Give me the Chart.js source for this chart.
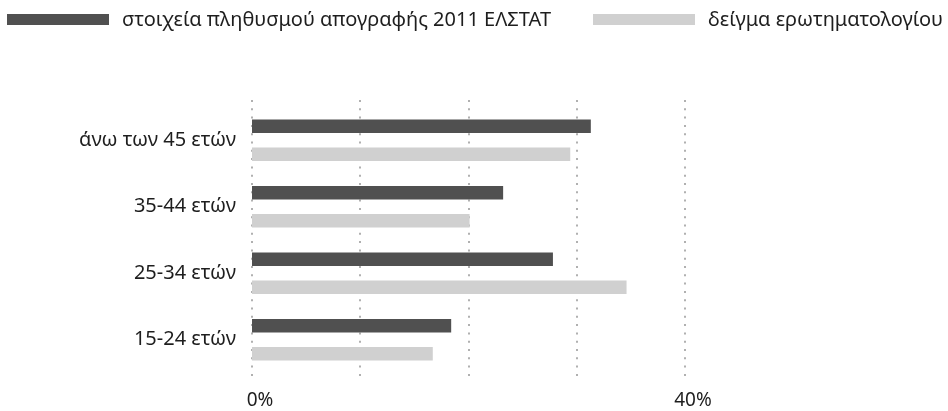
<!DOCTYPE html>
<html>
<head>
<meta charset="utf-8">
<script src="https://cdn.jsdelivr.net/npm/chart.js@4/dist/chart.umd.min.js"></script>
<style>
  html, body { margin: 0; padding: 0; background: #ffffff; }
  #wrap { position: relative; width: 948px; height: 411px; }
  #ageChart { position: absolute; left: 0; top: 0; }
  #legend { position: absolute; left: 0; top: 0; width: 948px; height: 40px;
            font-family: 'Noto Sans', sans-serif; font-size: 20px; color: #1e1e1e; }
  .legend-item { position: absolute; top: 5px; display: flex; align-items: center; white-space: nowrap; }
  .legend-box { width: 102px; height: 11px; margin-right: 13px; margin-top: 2px; }
</style>
</head>
<body>
<div id="wrap">
  <canvas id="ageChart" width="948" height="411"></canvas>
  <div id="legend"></div>
</div>
<script>
const ageGroups = ["άνω των 45 ετών", "35-44 ετών", "25-34 ετών", "15-24 ετών"];
const censusValues = [31.3, 23.2, 27.8, 18.4];
const sampleValues = [29.4, 20.1, 34.6, 16.7];
const tickLabels = { 0: "0%", 40: "40%" };

const fontFamily = "'Noto Sans', sans-serif";

// dotted vertical guides, a bit taller than the bar area
const dottedGrid = {
  id: "dottedGrid",
  beforeDatasetsDraw(chart) {
    const { ctx, chartArea, scales } = chart;
    ctx.save();
    ctx.strokeStyle = "#b0b0b0";
    ctx.lineWidth = 2;
    ctx.setLineDash([2, 6.3]);
    scales.x.ticks.forEach((t) => {
      const x = Math.round(scales.x.getPixelForValue(t.value));
      ctx.beginPath();
      ctx.moveTo(x, chartArea.top - 7);
      ctx.lineTo(x, chartArea.bottom + 8);
      ctx.stroke();
    });
    ctx.restore();
  }
};

const chart = new Chart(document.getElementById("ageChart"), {
  type: "bar",
  data: {
    labels: ageGroups,
    datasets: [
      {
        label: "στοιχεία πληθυσμού απογραφής 2011 ΕΛΣΤΑΤ",
        data: censusValues,
        backgroundColor: "#505050",
        categoryPercentage: 0.84,
        barPercentage: 0.48
      },
      {
        label: "δείγμα ερωτηματολογίου",
        data: sampleValues,
        backgroundColor: "#d0d0d0",
        categoryPercentage: 0.84,
        barPercentage: 0.48
      }
    ]
  },
  options: {
    indexAxis: "y",
    responsive: false,
    animation: false,
    layout: {
      padding: { left: 0, right: 263, top: 107, bottom: 0 }
    },
    plugins: {
      tooltip: { enabled: false },
      legend: { display: false }
    },
    scales: {
      x: {
        min: 0,
        max: 40,
        afterFit: (scale) => { scale.height = 38; },
        grid: { display: false, drawTicks: false },
        border: { display: false },
        ticks: {
          stepSize: 10,
          autoSkip: false,
          maxRotation: 0,
          padding: 16,
          labelOffset: 8,
          color: "#1e1e1e",
          font: { family: fontFamily, size: 19 },
          callback: (value) => tickLabels[value] || ""
        }
      },
      y: {
        afterFit: (scale) => { scale.width = 252; },
        grid: { display: false, drawTicks: false },
        border: { display: false },
        ticks: {
          padding: 16,
          color: "#1e1e1e",
          font: { family: fontFamily, size: 20 }
        }
      }
    }
  },
  plugins: [dottedGrid]
});

// html legend built from the datasets
const legendEl = document.getElementById("legend");
const legendLefts = [7, 593];
chart.data.datasets.forEach((ds, i) => {
  const item = document.createElement("div");
  item.className = "legend-item";
  item.style.left = legendLefts[i] + "px";
  const box = document.createElement("span");
  box.className = "legend-box";
  box.style.background = ds.backgroundColor;
  const text = document.createElement("span");
  text.textContent = ds.label;
  item.appendChild(box);
  item.appendChild(text);
  legendEl.appendChild(item);
});
</script>
</body>
</html>
